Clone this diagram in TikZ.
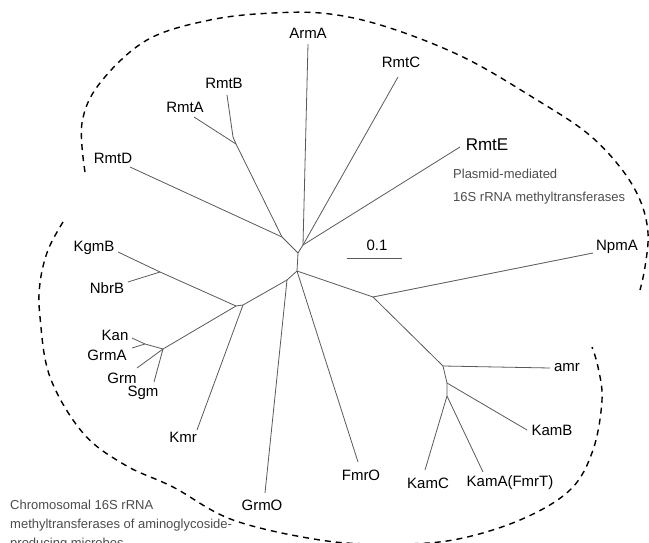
\documentclass[tikz,border=0pt]{standalone}
\usepackage{fontspec}
\setmainfont{Liberation Sans}
\begin{document}
\begin{tikzpicture}[x=1pt,y=-1pt,
  branch/.style={draw=black!65,line width=0.8pt},
  lbl/.style={font=\fontsize{15}{18}\selectfont,inner sep=0pt,text=black},
  desc/.style={font=\fontsize{13}{19}\selectfont,inner sep=0pt,text=black!70,align=left},
  group/.style={draw=black,line width=1.4pt,dash pattern=on 6pt off 5pt}]
\useasboundingbox (0,0) rectangle (649,543);
% internal nodes
\coordinate (n0) at (298,253);
\coordinate (n1) at (282,237);
\coordinate (n2) at (303,245);
\coordinate (n3) at (297,271);
\coordinate (n4) at (287,280);
\coordinate (n5a) at (243,305);
\coordinate (n5b) at (236,306);
\coordinate (nKN) at (160,272);
\coordinate (nK) at (163,349);
\coordinate (nKG) at (145,344);
\coordinate (nAB) at (236,144);
\coordinate (nB) at (233,137);
\coordinate (n6) at (373,297);
\coordinate (n7) at (443,366);
\coordinate (n8) at (447,383);
\coordinate (n9) at (447,396);
% leaf tips
\coordinate (tArmA) at (308,44);
\coordinate (tRmtC) at (398,77);
\coordinate (tRmtE) at (460,147);
\coordinate (tRmtD) at (130,167);
\coordinate (tRmtA) at (194,117);
\coordinate (tRmtB) at (227,95);
\coordinate (tKgmB) at (118,252);
\coordinate (tNbrB) at (128,282);
\coordinate (tKan) at (132,338);
\coordinate (tGrmA) at (132,348);
\coordinate (tGrm) at (137,368);
\coordinate (tSgm) at (154,382);
\coordinate (tKmr) at (197,430);
\coordinate (tGrmO) at (265,493);
\coordinate (tFmrO) at (358,462);
\coordinate (tKamC) at (425,470);
\coordinate (tKamA) at (483,472);
\coordinate (tKamB) at (527,430);
\coordinate (tamr) at (550,368);
\coordinate (tNpmA) at (593,253);
% branches
\draw[branch] (n1) -- (n0) -- (n2);
\draw[branch] (n0) -- (n3) -- (n4);
\draw[branch] (n1) -- (tRmtD);
\draw[branch] (n1) -- (nAB) -- (tRmtA);
\draw[branch] (nAB) -- (nB) -- (tRmtB);
\draw[branch] (n2) -- (tArmA);
\draw[branch] (n2) -- (tRmtC);
\draw[branch] (n2) -- (tRmtE);
\draw[branch] (n4) -- (n5a) -- (n5b);
\draw[branch] (n4) -- (tGrmO);
\draw[branch] (n5a) -- (tKmr);
\draw[branch] (n5b) -- (nKN) -- (tKgmB);
\draw[branch] (nKN) -- (tNbrB);
\draw[branch] (n5b) -- (nK) -- (nKG) -- (tKan);
\draw[branch] (nKG) -- (tGrmA);
\draw[branch] (nK) -- (tGrm);
\draw[branch] (nK) -- (tSgm);
\draw[branch] (n3) -- (tFmrO);
\draw[branch] (n3) -- (n6) -- (tNpmA);
\draw[branch] (n6) -- (n7) -- (tamr);
\draw[branch] (n7) -- (n8) -- (tKamB);
\draw[branch] (n8) -- (n9) -- (tKamC);
\draw[branch] (n9) -- (tKamA);
% labels
\node[lbl] (ArmA) at (308,33) {ArmA};
\node[lbl] (RmtC) at (401,62) {RmtC};
\node[lbl,font=\fontsize{17}{20}\selectfont] (RmtE) at (487,145) {RmtE};
\node[lbl] (RmtD) at (113,158) {RmtD};
\node[lbl] (RmtA) at (185,107) {RmtA};
\node[lbl] (RmtB) at (224,83) {RmtB};
\node[lbl] (KgmB) at (94,248) {KgmB};
\node[lbl] (NbrB) at (107,288) {NbrB};
\node[lbl] (Kan) at (115,335) {Kan};
\node[lbl] (GrmA) at (107,355) {GrmA};
\node[lbl] (Grm) at (122,378) {Grm};
\node[lbl] (Sgm) at (143,393) {Sgm};
\node[lbl] (Kmr) at (183,437) {Kmr};
\node[lbl] (GrmO) at (262,505) {GrmO};
\node[lbl] (FmrO) at (361,475) {FmrO};
\node[lbl] (KamC) at (428,483) {KamC};
\node[lbl] (KamA) at (510,483) {KamA(FmrT)};
\node[lbl] (KamB) at (552,430) {KamB};
\node[lbl] (amr) at (567,368) {amr};
\node[lbl] (NpmA) at (617,247) {NpmA};
% scale bar
\node[lbl] (scale) at (377,245) {0.1};
\coordinate (sbL) at (347,258);
\coordinate (sbR) at (402,258);
\draw[branch] (sbL) -- (sbR);
% group texts
\node[desc,anchor=north west,font=\fontsize{13}{23}\selectfont] (plasmid) at (453,169) {Plasmid-mediated\\16S rRNA\ methyltransferases};
\node[desc,anchor=north west] (chrom) at (10,500) {Chromosomal 16S rRNA\\methyltransferases of aminoglycoside-\\producing microbes};
% dashed group outlines
\draw[group] plot[smooth,tension=0.6] coordinates {(85,172) (82,123) (100,83) (147,40) (210,20) (273,13) (330,14) (390,28) (465,58) (537,100) (587,133) (620,167) (640,200) (648,233) (645,267) (640,290)};
\draw[group] plot[smooth,tension=0.6] coordinates {(63,222) (48,250) (40,283) (40,317) (50,377) (83,433) (125,465) (173,487) (233,520) (320,540) (387,544) (453,540) (520,520) (570,490) (593,450) (602,400) (598,367) (592,347)};
\end{tikzpicture}
\end{document}
